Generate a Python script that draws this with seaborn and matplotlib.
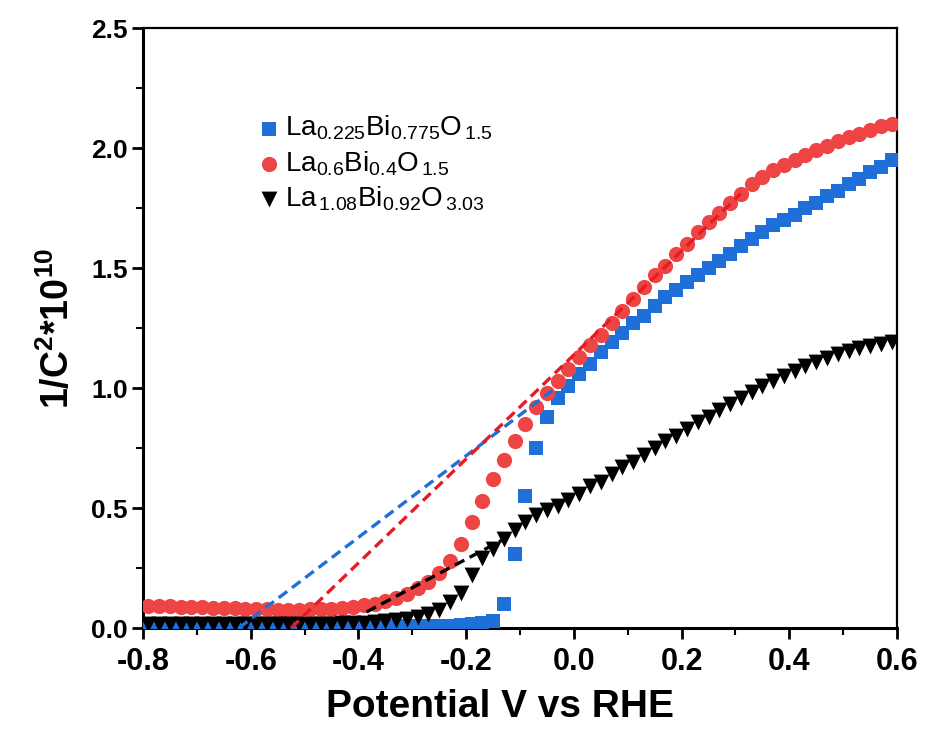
import matplotlib
matplotlib.use("Agg")
import matplotlib.pyplot as plt
from matplotlib.ticker import MultipleLocator, FormatStrFormatter
import seaborn as sns

# potential grid (V vs RHE), one point every ~0.02 V
potential = [-0.79, -0.77, -0.75, -0.73, -0.71, -0.69, -0.67, -0.65, -0.63, -0.61,
             -0.59, -0.57, -0.55, -0.53, -0.51, -0.49, -0.47, -0.45, -0.43, -0.41,
             -0.39, -0.37, -0.35, -0.33, -0.31, -0.29, -0.27, -0.25, -0.23, -0.21,
             -0.19, -0.17, -0.15, -0.13, -0.11, -0.09, -0.07, -0.05, -0.03, -0.01,
             0.01, 0.03, 0.05, 0.07, 0.09, 0.11, 0.13, 0.15, 0.17, 0.19,
             0.21, 0.23, 0.25, 0.27, 0.29, 0.31, 0.33, 0.35, 0.37, 0.39,
             0.41, 0.43, 0.45, 0.47, 0.49, 0.51, 0.53, 0.55, 0.57, 0.59]

# La0.225Bi0.775O1.5 (blue squares)
blue_vals = [0.005, 0.005, 0.005, 0.005, 0.005, 0.005, 0.005, 0.005, 0.005, 0.005,
             0.005, 0.005, 0.005, 0.005, 0.005, 0.005, 0.005, 0.005, 0.005, 0.006,
             0.008, 0.008, 0.008, 0.008, 0.008, 0.008, 0.009, 0.010, 0.010, 0.012,
             0.015, 0.020, 0.030, 0.100, 0.310, 0.550, 0.750, 0.880, 0.960, 1.010,
             1.060, 1.100, 1.150, 1.190, 1.230, 1.270, 1.300, 1.340, 1.380, 1.410,
             1.440, 1.470, 1.500, 1.530, 1.560, 1.590, 1.620, 1.650, 1.680, 1.700,
             1.720, 1.750, 1.770, 1.800, 1.820, 1.850, 1.870, 1.900, 1.920, 1.950]

# La0.6Bi0.4O1.5 (red circles)
red_vals = [0.092, 0.091, 0.090, 0.089, 0.088, 0.087, 0.085, 0.084, 0.082, 0.081,
            0.079, 0.078, 0.077, 0.077, 0.077, 0.078, 0.079, 0.081, 0.084, 0.088,
            0.094, 0.102, 0.112, 0.125, 0.140, 0.165, 0.190, 0.230, 0.280, 0.350,
            0.440, 0.530, 0.620, 0.700, 0.780, 0.850, 0.920, 0.980, 1.030, 1.080,
            1.130, 1.180, 1.220, 1.270, 1.320, 1.370, 1.420, 1.470, 1.510, 1.560,
            1.600, 1.650, 1.690, 1.730, 1.770, 1.810, 1.850, 1.880, 1.910, 1.930,
            1.950, 1.970, 1.990, 2.010, 2.030, 2.045, 2.060, 2.075, 2.090, 2.100]

# La1.08Bi0.92O3.03 (black triangles)
black_vals = [0.017, 0.017, 0.017, 0.017, 0.017, 0.017, 0.017, 0.017, 0.017, 0.017,
              0.017, 0.017, 0.017, 0.017, 0.017, 0.017, 0.018, 0.018, 0.019, 0.020,
              0.022, 0.025, 0.028, 0.032, 0.037, 0.045, 0.058, 0.075, 0.110, 0.145,
              0.220, 0.290, 0.330, 0.370, 0.410, 0.440, 0.470, 0.490, 0.510, 0.535,
              0.560, 0.590, 0.610, 0.640, 0.670, 0.690, 0.720, 0.750, 0.780, 0.800,
              0.830, 0.860, 0.880, 0.910, 0.935, 0.960, 0.985, 1.010, 1.030, 1.050,
              1.070, 1.090, 1.110, 1.125, 1.140, 1.155, 1.165, 1.175, 1.185, 1.190]

# linear (Mott-Schottky) fits, start and end points
blue_fit_x = [-0.622, -0.04]
blue_fit_y = [0.0, 0.99]
red_fit_x = [-0.525, 0.31]
red_fit_y = [0.0, 1.81]
black_fit_x = [-0.385, -0.13]
black_fit_y = [0.067, 0.37]

labels = [r"La$_{0.225}$Bi$_{0.775}$O$_{\,1.5}$",
          r"La$_{0.6}$Bi$_{0.4}$O$_{\,1.5}$",
          r"La$_{\,1.08}$Bi$_{0.92}$O$_{\,3.03}$"]

blue = "#1f6fd8"
red = "#ee4444"
red_line = "#e51c23"
black = "#000000"

sns.set_style("white")
plt.rcParams["font.family"] = ["Liberation Sans", "DejaVu Sans"]
plt.rcParams["mathtext.fontset"] = "custom"
plt.rcParams["mathtext.rm"] = "Liberation Sans"
plt.rcParams["mathtext.it"] = "Liberation Sans:italic"
plt.rcParams["mathtext.bf"] = "Liberation Sans:bold"
plt.rcParams["axes.unicode_minus"] = False
for key in ["text.color", "axes.labelcolor", "xtick.color", "ytick.color"]:
    plt.rcParams[key] = "black"

fig = plt.figure(figsize=(9.26, 7.38), dpi=100)
ax = fig.add_axes([0.1544, 0.149, 0.8143, 0.813])

sns.scatterplot(x=potential, y=blue_vals, ax=ax, marker="s", s=95,
                color=blue, linewidth=0, label=labels[0], zorder=3)
sns.scatterplot(x=potential, y=red_vals, ax=ax, marker="o", s=120,
                color=red, linewidth=0, label=labels[1], zorder=3)
sns.scatterplot(x=potential, y=black_vals, ax=ax, marker="v", s=130,
                color=black, linewidth=0, label=labels[2], zorder=3)

# dashed tangent lines on top of the points
for fx, fy, c in [(blue_fit_x, blue_fit_y, blue),
                  (red_fit_x, red_fit_y, red_line),
                  (black_fit_x, black_fit_y, black)]:
    sns.lineplot(x=fx, y=fy, ax=ax, color=c, linewidth=2.4,
                 linestyle=(0, (3.2, 1.8)), zorder=4, legend=False)

ax.set_xlim(-0.8, 0.6)
ax.set_ylim(0, 2.5)
ax.xaxis.set_major_locator(MultipleLocator(0.2))
ax.xaxis.set_minor_locator(MultipleLocator(0.1))
ax.yaxis.set_major_locator(MultipleLocator(0.5))
ax.yaxis.set_minor_locator(MultipleLocator(0.25))
ax.xaxis.set_major_formatter(FormatStrFormatter("%.1f"))
ax.yaxis.set_major_formatter(FormatStrFormatter("%.1f"))

ax.tick_params(which="major", direction="out", length=8, width=2,
               bottom=True, left=True, top=False, right=False)
ax.tick_params(which="minor", direction="out", length=5, width=1.5,
               bottom=True, left=True, top=False, right=False)
ax.tick_params(axis="x", pad=6)
ax.tick_params(axis="y", pad=3)

for lab in ax.get_xticklabels():
    lab.set_fontweight("bold")
    lab.set_fontsize(22)
for lab in ax.get_yticklabels():
    lab.set_fontweight("bold")
    lab.set_fontsize(19)

for side in ["left", "bottom"]:
    ax.spines[side].set_linewidth(2.2)
for side in ["top", "right"]:
    ax.spines[side].set_linewidth(1.6)
for sp in ax.spines.values():
    sp.set_color("black")

ax.set_xlabel("Potential V vs RHE", fontsize=28, fontweight="bold", labelpad=8)
ax.xaxis.label.set_x(0.4735)
ax.set_ylabel(r"$\mathbf{1/C}^{\mathbf{2}}\mathbf{*10}^{\mathbf{10}}$",
              fontsize=27, labelpad=10)

ax.legend(loc="upper left", bbox_to_anchor=(0.152, 0.857), frameon=False,
          fontsize=20, handlelength=0.8, handletextpad=0.2, labelspacing=0.25,
          borderaxespad=0, borderpad=0)

fig.savefig("out.png", dpi=100)
